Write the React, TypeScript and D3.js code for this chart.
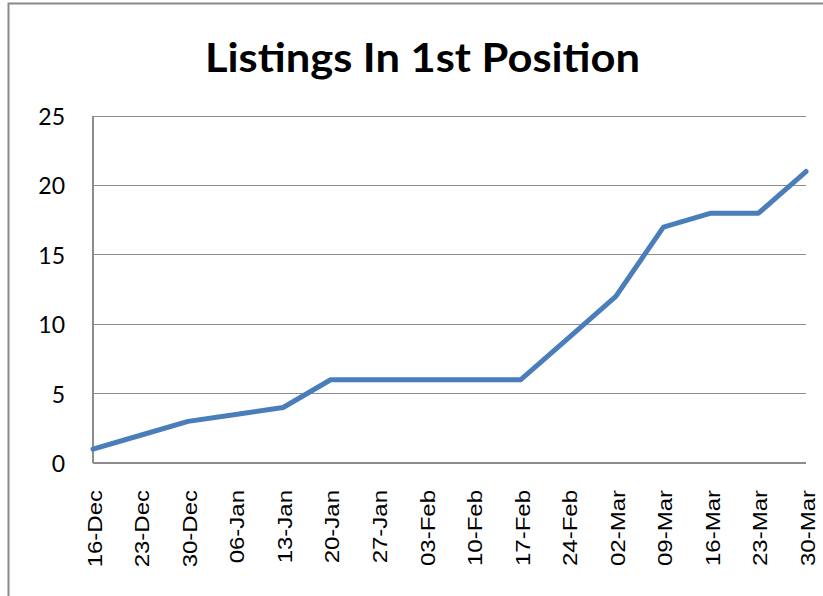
import React from "react";
import * as d3 from "d3";

const categories = ["16-Dec","23-Dec","30-Dec","06-Jan","13-Jan","20-Jan","27-Jan","03-Feb","10-Feb","17-Feb","24-Feb","02-Mar","09-Mar","16-Mar","23-Mar","30-Mar"];
const values = [1, 2, 3, 3.5, 4, 6, 6, 6, 6, 6, 9, 12, 17, 18, 18, 21];
const yTicks = [0, 5, 10, 15, 20, 25];
const title = "Listings In 1st Position";

export default function App() {
  const W = 823, H = 596;
  const left = 93, right = 806, top = 116, bottom = 463;
  const x = d3.scalePoint<string>().domain(categories).range([left, right]);
  const y = d3.scaleLinear().domain([0, 25]).range([bottom, top]);
  const line = d3.line<number>()
    .x((_, i) => x(categories[i]) as number)
    .y((d) => y(d));
  return (
    <svg width={W} height={H} style={{ position: "absolute", left: 0, top: 0, background: "#fff" }}>
      <rect x={8.5} y={3.5} width={900} height={700} fill="#fff" stroke="#8a8a8a" strokeWidth={2} />
      <text x={422.5} y={72} textAnchor="middle" textLength={435} lengthAdjust="spacingAndGlyphs" fontFamily="Lato, 'Open Sans', sans-serif" fontWeight="bold" fontSize={41} fill="#000">{title}</text>
      {yTicks.filter((t) => t > 0).map((t) => (
        <line key={t} x1={left} x2={right} y1={y(t)} y2={y(t)} stroke="#8c8c8c" strokeWidth={1} shapeRendering="crispEdges" />
      ))}
      <line x1={left} x2={left} y1={top} y2={bottom} stroke="#8c8c8c" strokeWidth={1.5} shapeRendering="crispEdges" />
      <line x1={left} x2={right} y1={bottom} y2={bottom} stroke="#8c8c8c" strokeWidth={1.5} shapeRendering="crispEdges" />
      {yTicks.map((t) => (
        <text key={t} x={65} y={y(t)} textAnchor="end" dominantBaseline="central" fontFamily="Lato, 'Open Sans', sans-serif" fontSize={23} fill="#000">{t}</text>
      ))}
      {categories.map((c) => (
        <text key={c} transform={`translate(${(x(c) as number) + 2},490) rotate(-90) scale(1.2,1)`} textAnchor="end" dominantBaseline="central" fontFamily="'Liberation Sans', Arial, sans-serif" fontSize={20} fill="#000">{c}</text>
      ))}
      <path d={line(values) || ""} fill="none" stroke="#4a7ebb" strokeWidth={5} strokeLinejoin="round" strokeLinecap="round" />
    </svg>
  );
}
